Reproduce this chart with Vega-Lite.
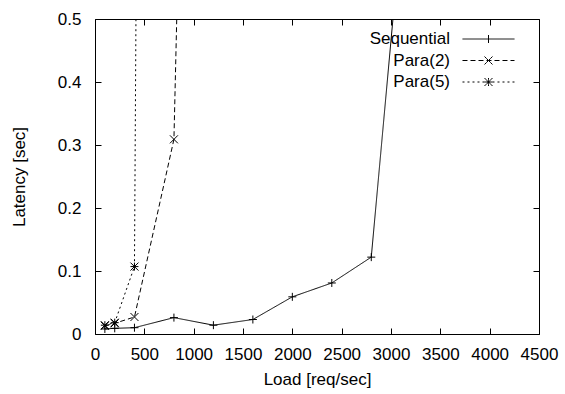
{
  "$schema": "https://vega.github.io/schema/vega-lite/v6.json",
  "autosize": "none",
  "width": 444,
  "height": 315,
  "padding": {"left": 95, "top": 19, "right": 26, "bottom": 60},
  "background": "white",
  "config": {
    "font": "Liberation Sans",
    "view": {"stroke": null},
    "axis": {
      "grid": false,
      "domainColor": "black",
      "domainWidth": 1,
      "tickColor": "black",
      "tickWidth": 1,
      "tickSize": -6,
      "labelFont": "Liberation Sans",
      "labelFontSize": 17,
      "labelColor": "black",
      "titleFont": "Liberation Sans",
      "titleFontSize": 17,
      "titleFontWeight": "normal",
      "titleColor": "black"
    }
  },
  "data": {
    "values": [
      {"series": "Sequential", "load": 100, "latency": 0.008},
      {"series": "Sequential", "load": 200, "latency": 0.009},
      {"series": "Sequential", "load": 400, "latency": 0.010},
      {"series": "Sequential", "load": 800, "latency": 0.026},
      {"series": "Sequential", "load": 1200, "latency": 0.014},
      {"series": "Sequential", "load": 1600, "latency": 0.023},
      {"series": "Sequential", "load": 2000, "latency": 0.059},
      {"series": "Sequential", "load": 2400, "latency": 0.081},
      {"series": "Sequential", "load": 2800, "latency": 0.122},
      {"series": "Sequential", "load": 3200, "latency": 0.81},
      {"series": "Para(2)", "load": 100, "latency": 0.013},
      {"series": "Para(2)", "load": 200, "latency": 0.017},
      {"series": "Para(2)", "load": 400, "latency": 0.027},
      {"series": "Para(2)", "load": 800, "latency": 0.309},
      {"series": "Para(2)", "load": 1200, "latency": 3.0},
      {"series": "Para(5)", "load": 100, "latency": 0.014},
      {"series": "Para(5)", "load": 200, "latency": 0.018},
      {"series": "Para(5)", "load": 400, "latency": 0.107},
      {"series": "Para(5)", "load": 800, "latency": 10.6}
    ]
  },
  "resolve": {"axis": {"x": "independent", "y": "independent"}},
  "layer": [
    {
      "mark": {"type": "line", "color": "black", "strokeWidth": 1, "clip": true},
      "encoding": {
        "x": {
          "field": "load", "type": "quantitative",
          "scale": {"domain": [0, 4500], "nice": false, "zero": false},
          "axis": {"values": [0, 500, 1000, 1500, 2000, 2500, 3000, 3500, 4000, 4500], "format": "d", "labelPadding": 18, "title": "Load [req/sec]", "titlePadding": 9, "labelFlush": false}
        },
        "y": {
          "field": "latency", "type": "quantitative",
          "scale": {"domain": [0, 0.5], "nice": false, "zero": false},
          "axis": {"values": [0, 0.1, 0.2, 0.3, 0.4, 0.5], "format": "~g", "labelPadding": 20, "title": "Latency [sec]", "titlePadding": 29, "labelFlush": false}
        },
        "strokeDash": {
          "field": "series", "type": "nominal",
          "scale": {"domain": ["Sequential", "Para(2)", "Para(5)"], "range": [[1, 0], [5, 3], [2, 3]]},
          "legend": {
            "title": null,
            "orient": "none",
            "legendX": 384.5,
            "legendY": 11,
            "padding": 0,
            "labelAlign": "right",
            "labelOffset": -47.5,
            "labelFont": "Liberation Sans",
            "labelFontSize": 17,
            "labelColor": "black",
            "symbolSize": 289,
            "symbolStrokeWidth": 1,
            "symbolStrokeColor": "black",
            "symbolFillColor": "transparent",
            "rowPadding": 4.5,
            "encode": {
              "symbols": {
                "update": {
                  "shape": {"signal": "datum.value === 'Sequential' ? 'M-3.06,0L3.06,0M0,-0.47L0,0.47' : datum.value === 'Para(2)' ? 'M-3.06,0L3.06,0M-0.47,-0.47L-0.235,-0.235M-0.235,-0.235L0,0M0,0L0.235,0.235M0.235,0.235L0.47,0.47M-0.47,0.47L-0.235,0.235M-0.235,0.235L0,0M0,0L0.235,-0.235M0.235,-0.235L0.47,-0.47' : 'M-3.06,0L3.06,0M0,-0.47L0,-0.313M0,-0.313L0,-0.157M0,-0.157L0,0M0,0L0,0.157M0,0.157L0,0.313M0,0.313L0,0.47M-0.47,0L-0.313,0M-0.313,0L-0.157,0M-0.157,0L0,0M0,0L0.157,0M0.157,0L0.313,0M0.313,0L0.47,0M-0.47,-0.47L-0.313,-0.313M-0.313,-0.313L-0.157,-0.157M-0.157,-0.157L0,0M0,0L0.157,0.157M0.157,0.157L0.313,0.313M0.313,0.313L0.47,0.47M-0.47,0.47L-0.313,0.313M-0.313,0.313L-0.157,0.157M-0.157,0.157L0,0M0,0L0.157,-0.157M0.157,-0.157L0.313,-0.313M0.313,-0.313L0.47,-0.47'"}
                }
              }
            }
          }
        }
      }
    },
    {
      "transform": [{"filter": "datum.series === 'Sequential'"}],
      "mark": {"type": "point", "shape": "M-1,0L1,0M0,-1L0,1", "filled": false, "stroke": "black", "strokeWidth": 1, "size": 64, "opacity": 1, "clip": true},
      "encoding": {
        "x": {
          "field": "load", "type": "quantitative",
          "axis": {"orient": "top", "values": [0, 500, 1000, 1500, 2000, 2500, 3000, 3500, 4000, 4500], "labels": false, "title": null}
        },
        "y": {
          "field": "latency", "type": "quantitative",
          "axis": {"orient": "right", "values": [0, 0.1, 0.2, 0.3, 0.4, 0.5], "labels": false, "title": null}
        }
      }
    },
    {
      "transform": [{"filter": "datum.series === 'Para(2)'"}],
      "mark": {"type": "point", "shape": "M-1,-1L1,1M-1,1L1,-1", "filled": false, "stroke": "black", "strokeWidth": 1, "size": 64, "opacity": 1, "clip": true},
      "encoding": {
        "x": {"field": "load", "type": "quantitative", "axis": null},
        "y": {"field": "latency", "type": "quantitative", "axis": null}
      }
    },
    {
      "transform": [{"filter": "datum.series === 'Para(5)'"}],
      "mark": {"type": "point", "shape": "M-1,0L1,0M0,-1L0,1M-1,-1L1,1M-1,1L1,-1", "filled": false, "stroke": "black", "strokeWidth": 1, "size": 64, "opacity": 1, "clip": true},
      "encoding": {
        "x": {"field": "load", "type": "quantitative", "axis": null},
        "y": {"field": "latency", "type": "quantitative", "axis": null}
      }
    }
  ]
}
